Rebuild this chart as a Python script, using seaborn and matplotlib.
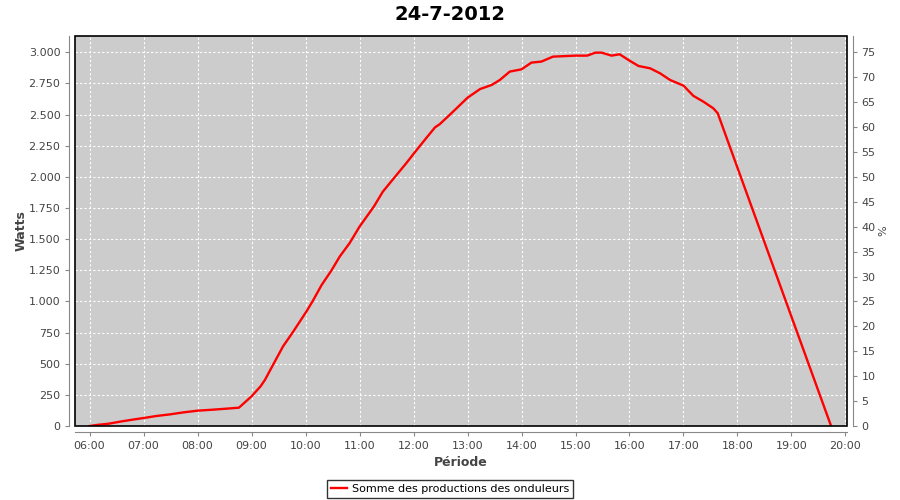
import matplotlib
matplotlib.use("Agg")
import matplotlib.pyplot as plt
import matplotlib.dates as mdates
from matplotlib.ticker import FuncFormatter, MultipleLocator
from matplotlib.patches import Rectangle
import seaborn as sns
import pandas as pd
import numpy as np

# ---- data ----
times = ["06:00", "06:10", "06:21", "06:34", "06:47", "07:00", "07:14", "07:29",
         "07:44", "08:00", "08:17", "08:32", "08:46", "09:00", "09:10", "09:15",
         "09:24", "09:35", "09:46", "10:01", "10:08", "10:18", "10:29", "10:38",
         "10:49", "11:00", "11:16", "11:26", "11:40", "11:52", "12:00", "12:14",
         "12:24", "12:29", "12:41", "13:00", "13:14", "13:27", "13:36", "13:47",
         "14:00", "14:11", "14:22", "14:35", "15:00", "15:13", "15:22", "15:29",
         "15:40", "15:49", "16:00", "16:10", "16:23", "16:34", "16:45", "17:00",
         "17:11", "17:22", "17:33", "17:38", "19:44"]
watts = [0, 10, 18, 35, 50, 64, 80, 93,
         109, 123, 131, 139, 147, 238, 318, 371,
         492, 639, 754, 919, 1003, 1133, 1251, 1360,
         1468, 1600, 1762, 1882, 2005, 2110, 2184, 2310,
         2398, 2422, 2503, 2635, 2705, 2738, 2778, 2845,
         2863, 2917, 2925, 2965, 2973, 2973, 2997, 2997,
         2973, 2984, 2933, 2890, 2871, 2831, 2778, 2732,
         2650, 2604, 2551, 2511, 0]
hour_ticks = ["06:00", "07:00", "08:00", "09:00", "10:00", "11:00", "12:00",
              "13:00", "14:00", "15:00", "16:00", "17:00", "18:00", "19:00", "20:00"]
title = "24-7-2012"
series_name = "Somme des productions des onduleurs"

day = "2012-07-24 "
df = pd.DataFrame({"t": pd.to_datetime([day + t for t in times]), "W": watts})

fig = plt.figure(figsize=(9, 5), dpi=100)
ax = fig.add_axes([75/900, 1 - 426/500, (847-75)/900, (426-35.7)/500])
ax.set_facecolor("#CCCCCC")

sns.lineplot(data=df, x="t", y="W", ax=ax, color="#FF0000", linewidth=1.7,
             label=series_name, legend=False)

base = pd.Timestamp("2012-07-24 00:00")
ax.set_xlim(base + pd.Timedelta(hours=5.731), base + pd.Timedelta(hours=20.028))
ytop = 3133
ax.set_ylim(0, ytop)

ax.set_xticks(pd.to_datetime([day + h for h in hour_ticks]))
ax.xaxis.set_major_formatter(mdates.DateFormatter("%H:%M"))
ax.yaxis.set_major_locator(MultipleLocator(250))
ax.yaxis.set_major_formatter(FuncFormatter(lambda v, p: f"{v:,.0f}".replace(",", ".")))

ax.set_axisbelow(True)
ax.grid(True, color="white", linestyle=(0, (2, 2)), linewidth=0.8)

gray = "#888888"
txt = "#444444"
for s in ["top", "right"]:
    ax.spines[s].set_visible(False)
for s in ["left", "bottom"]:
    ax.spines[s].set_position(("outward", 4))
    ax.spines[s].set_color(gray)
ax.tick_params(axis="both", colors=gray, labelcolor=txt, labelsize=8, length=3, width=0.8)
ax.set_xlabel("Période", fontsize=9, fontweight="bold", color=txt, labelpad=4)
ax.set_ylabel("Watts", fontsize=9, fontweight="bold", color=txt, labelpad=1)

ax.add_patch(Rectangle((0, 0), 1, 1, transform=ax.transAxes, fill=False,
                       ec="black", lw=1.2, clip_on=False, zorder=5))

ax2 = ax.twinx()
ax2.set_ylim(0, ytop / 40)
ax2.yaxis.set_major_locator(MultipleLocator(5))
for s in ["top", "left", "bottom"]:
    ax2.spines[s].set_visible(False)
ax2.spines["right"].set_position(("outward", 4))
ax2.spines["right"].set_color(gray)
ax2.tick_params(axis="y", colors=gray, labelcolor=txt, labelsize=8, length=3, width=0.8)
ax2.set_ylabel("%", fontsize=8, color=txt, labelpad=2)

fig.suptitle(title, fontsize=14, fontweight="bold", y=0.99)

handles, labels = ax.get_legend_handles_labels()
leg = fig.legend(handles, labels, loc="lower center", bbox_to_anchor=(0.5, 0.004),
                 frameon=True, fancybox=False, fontsize=8, handlelength=1.5,
                 handletextpad=0.4, borderpad=0.35, borderaxespad=0)
leg.get_frame().set_edgecolor("black")
leg.get_frame().set_linewidth(1.0)

fig.savefig("out.png", dpi=100)
